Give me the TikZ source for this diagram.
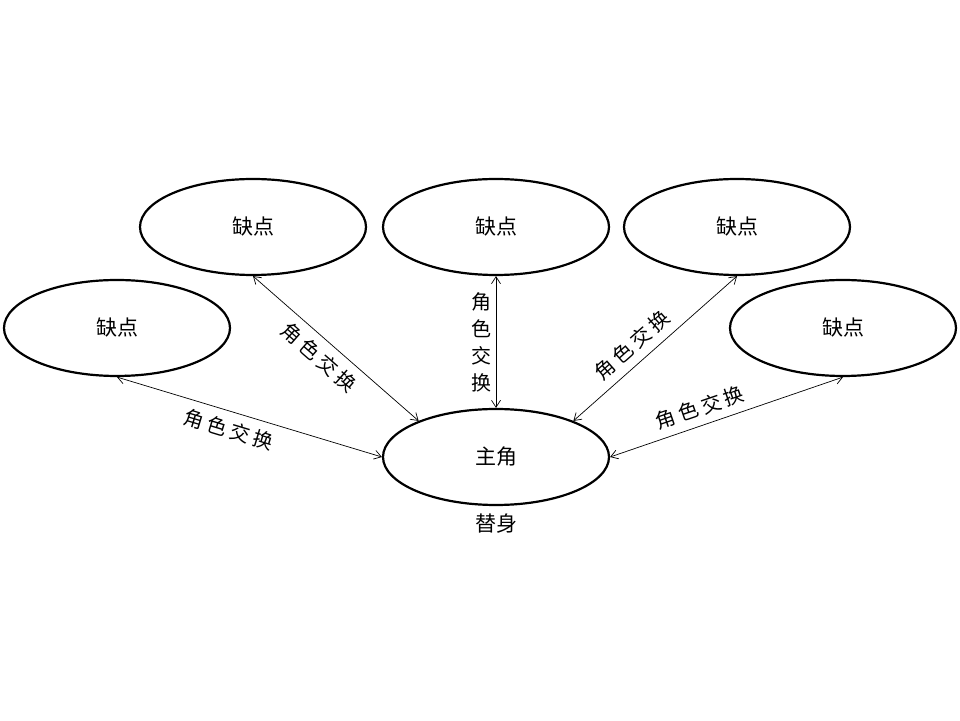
\documentclass[tikz,border=0pt]{standalone}
\usepackage{fontspec}
\newfontfamily\cjk{Noto Sans CJK SC}
\usepackage{tikz}
\usetikzlibrary{shapes,shapes.geometric,arrows.meta,calc,positioning}
\newcommand{\swaptext}{角\hspace{4pt}色\hspace{4pt}交\hspace{4pt}换}

\begin{document}
\begin{tikzpicture}
[x=1pt,y=1pt,>={Straight Barb[length=7pt,width=9pt]},
every node/.style={font=\cjk\fontsize{21}{27}\selectfont},
bubble/.style={shape=ellipse,draw,line width=2.2pt,minimum width=226pt,
	minimum height=96pt,inner sep=0pt},
swap/.style={<->,line width=0.7pt},
tag/.style={font=\cjk\fontsize{20}{27}\selectfont,inner sep=0pt}]
\useasboundingbox (0,0) rectangle (960,720);
\node[bubble] (main) at (496,263) {主角};
\node[below=4pt of main] (stand) {替身};
\node[bubble] (l) at (117,392) {缺点};
\node[bubble] (tl) at (253,493) {缺点};
\node[bubble] (tm) at (496,493) {缺点};
\node[bubble] (tr) at (737,493) {缺点};
\node[bubble] (r) at (843,392) {缺点};
\path
\foreach \startNode/\endNode/\side/\where in {l.south/main.west/below/0.44,
	tl.south/main.155/below/0.47, main.25/tr.south/above/0.43, main.east/r.south/above/0.41}
{
	(\startNode) edge[swap] node[tag,sloped,pos=\where,\side=8pt] {\swaptext} (\endNode)
};
\draw[swap] (tm.south) -- node[tag,left=4pt,align=center] {角\\色\\交\\换} (main.north);
\end{tikzpicture}
\end{document}
